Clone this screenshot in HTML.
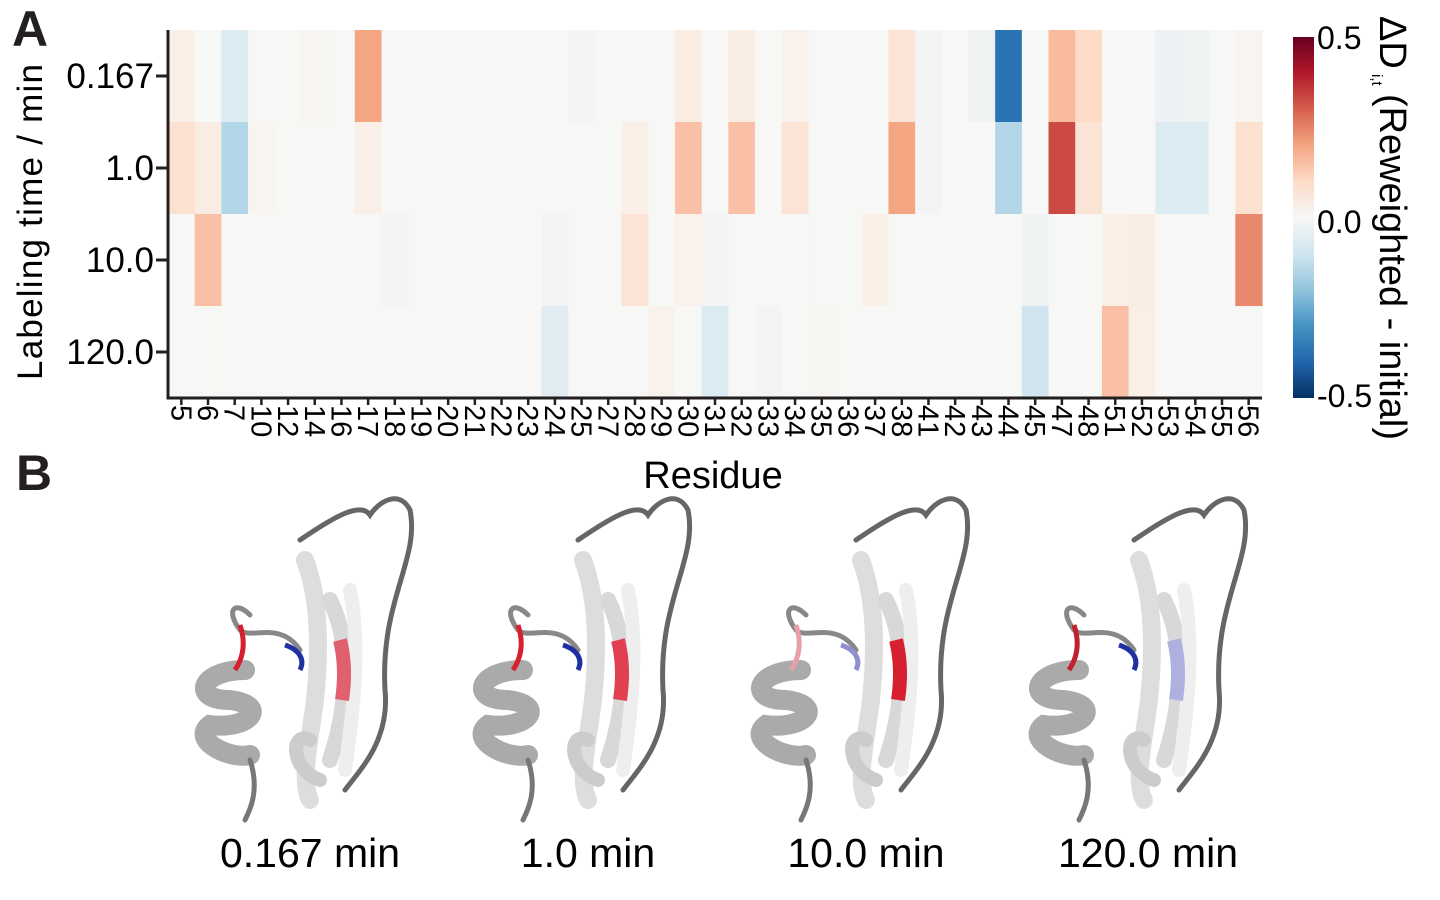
<!DOCTYPE html>
<html><head><meta charset="utf-8"><style>
body{margin:0;background:#fff;width:1440px;height:900px;overflow:hidden;font-family:"Liberation Sans",Arial,sans-serif}
svg{display:block}
</style></head><body>
<svg id="fig" width="1440" height="900" viewBox="0 0 1440 900">
<defs>
<linearGradient id="cbar" x1="0" y1="1" x2="0" y2="0">
<stop offset="0" stop-color="#053061"/><stop offset="0.1" stop-color="#2166ac"/><stop offset="0.2" stop-color="#4393c3"/><stop offset="0.3" stop-color="#92c5de"/><stop offset="0.4" stop-color="#d1e5f0"/><stop offset="0.5" stop-color="#f7f7f7"/><stop offset="0.6" stop-color="#fddbc7"/><stop offset="0.7" stop-color="#f4a582"/><stop offset="0.8" stop-color="#d6604d"/><stop offset="0.9" stop-color="#b2182b"/><stop offset="1" stop-color="#67001f"/>
</linearGradient>
</defs>
<text x="12" y="46" font-size="50" font-weight="bold" fill="#231f20">A</text>
<text x="16" y="490" font-size="50" font-weight="bold" fill="#231f20">B</text>
<g id="heat"></g>
<g id="axes"></g>
<rect x="1293" y="37" width="21" height="361" fill="url(#cbar)"/>
<text x="1317" y="49" font-size="32">0.5</text>
<text x="1317" y="233" font-size="32">0.0</text>
<text x="1317" y="407" font-size="32">-0.5</text>
<g transform="translate(1380,16) rotate(90)">
<text x="0" y="0" font-size="38">ΔD</text>
<text x="58" y="8" font-size="15">i,t</text>
<text x="78" y="0" font-size="38" textLength="346" lengthAdjust="spacingAndGlyphs">(Reweighted - initial)</text>
</g>
<text transform="translate(42,222) rotate(-90)" text-anchor="middle" font-size="35" textLength="316">Labeling time / min</text>
<text x="713" y="488" text-anchor="middle" font-size="38">Residue</text>
<g id="proteins"></g>
</svg>
<script>
const residues=["5","6","7","10","12","14","16","17","18","19","20","21","22","23","24","25","27","28","29","30","31","32","33","34","35","36","37","38","41","42","43","44","45","47","48","51","52","53","54","55","56"];
const times=["0.167","1.0","10.0","120.0"];
const row0167=[0.03,0,-0.07,0,0,0.01,0,0.2,0,0,0,0,0,0,0,-0.01,0,0,0,0.04,0,0.04,0,0.02,0,0,0,0.07,-0.01,0,-0.02,-0.37,0,0.16,0.1,0,0,-0.03,-0.02,0,0.01];
const row10=[0.08,0.04,-0.15,0.01,0,0,0,0.03,0,0,0,0,0,0,0,0,0,0.03,0,0.15,0,0.15,0,0.07,0,0,0,0.2,-0.01,0,0,-0.15,0,0.33,0.07,0,0,-0.07,-0.07,0,0.08];
const row100=[0,0.15,0,0,0,0,0,0,-0.01,0,0,0,0,0,-0.01,0,0,0.07,0,0.02,-0.01,0,0,0,0,0,0.03,0,0,0,0,0,-0.02,0,0,0.03,0.04,0,0,0,0.24];
const row1200=[0,0,0,0,0,0,0,0,0,0,0,0,0,0,-0.06,0,0,0,0.02,0,-0.07,0,-0.01,0,0.005,0,0,0,0,0,0,0,-0.1,0,0,0.15,0.03,0,0,0,0];
const rows=[row0167,row10,row100,row1200];
const NS="http://www.w3.org/2000/svg";
const X0=168,X1=1262,Y0=30,Y1=398;
const cw=(X1-X0)/residues.length, rh=(Y1-Y0)/times.length;
function xPos(i){return X0+i*cw}
function yPos(j){return Y0+j*rh}
const stops=[[5,48,97],[33,102,172],[67,147,195],[146,197,222],[209,229,240],[247,247,245],[253,219,199],[244,165,130],[214,96,77],[178,24,43],[103,0,31]];
function color(v){let t=Math.max(-1,Math.min(1,v/0.5));let p=(t+1)*5;let i=Math.min(9,Math.floor(p));let f=p-i;const a=stops[i],b=stops[i+1];return `rgb(${a.map((c,k)=>Math.round(c+(b[k]-c)*f)).join(",")})`}
function mk(tag,attrs,parent){const e=document.createElementNS(NS,tag);for(const k in attrs)e.setAttribute(k,attrs[k]);parent.appendChild(e);return e}
const heat=document.getElementById('heat');
rows.forEach((r,j)=>r.forEach((v,i)=>{
 const c=mk('rect',{x:xPos(i),y:yPos(j),width:cw+0.6,height:rh+0.6,fill:color(v)},heat);
 
 
}));
const ax=document.getElementById('axes');
mk('line',{x1:X0,y1:Y0,x2:X0,y2:Y1+1.5,stroke:'#231f20','stroke-width':3},ax);
mk('line',{x1:X0-1.5,y1:Y1,x2:X1,y2:Y1,stroke:'#231f20','stroke-width':3},ax);
times.forEach((t,j)=>{
 const y=yPos(j)+rh/2;
 mk('line',{x1:X0-12,y1:y,x2:X0,y2:y,stroke:'#231f20','stroke-width':3},ax);
 const tx=mk('text',{x:X0-14,y:y+12,'text-anchor':'end','font-size':35},ax);
 tx.textContent=t;
 
 
});
residues.forEach((r,i)=>{
 const x=xPos(i)+cw/2;
 mk('line',{x1:x,y1:Y1,x2:x,y2:Y1+7,stroke:'#231f20','stroke-width':2.5},ax);
 const tx=mk('text',{transform:`translate(${x-10},${Y1+7}) rotate(90)`,'font-size':29},ax);
 tx.textContent=r;
 
 
});
const prot=document.getElementById('proteins');
const labels=["0.167 min","1.0 min","10.0 min","120.0 min"];
const offs=[0,278,556,834];
const accents=[["#d62030","#2030a0","#e06070"],["#d62030","#2030a0","#e04050"],["#e8a0a8","#9090d0","#d62030"],["#c02030","#2030a0","#b0b0e0"]];
labels.forEach((l,k)=>{
 const g=mk('g',{transform:`translate(${offs[k]},0)`},prot);
 
 
 const paths=[
  ["M300 540 C 330 520 360 500 370 515 C 380 500 400 490 410 510 C 420 560 380 600 385 690 C 390 740 360 770 345 790",'#666',5],
  ["M305 560 C 320 600 320 650 315 700 C 310 740 300 780 310 800",'#ddd',18],
  ["M330 600 C 350 640 350 700 330 760",'#d8d8d8',16],
  ["M350 590 C 360 640 355 700 345 770",'#eee',14],
  ["M245 670 C 200 670 190 700 230 700 C 270 705 250 730 210 725 C 190 740 230 760 250 755",'#aaa',20],
  ["M250 760 C 260 790 250 810 245 820",'#777',5],
  ["M300 650 C 280 620 250 640 240 630 C 225 610 235 600 250 615",'#888',5],
  ["M310 740 C 290 730 290 770 320 780",'#ccc',14]
 ];
 paths.forEach(p=>mk('path',{d:p[0],fill:'none',stroke:p[1],'stroke-width':p[2],'stroke-linecap':'round'},g));
 mk('path',{d:"M235 670 C 245 655 245 640 240 625",fill:'none',stroke:accents[k][0],'stroke-width':5},g);
 mk('path',{d:"M285 645 C 300 650 305 660 300 670",fill:'none',stroke:accents[k][1],'stroke-width':5},g);
 mk('path',{d:"M340 640 C 345 660 345 680 342 700",fill:'none',stroke:accents[k][2],'stroke-width':14},g);
 const cx=[310,588,866,1148][k]-offs[k];
 const t=mk('text',{x:cx,y:867,'text-anchor':'middle','font-size':41},g);
 t.textContent=l;
 
 
});
</script>
</body></html>
